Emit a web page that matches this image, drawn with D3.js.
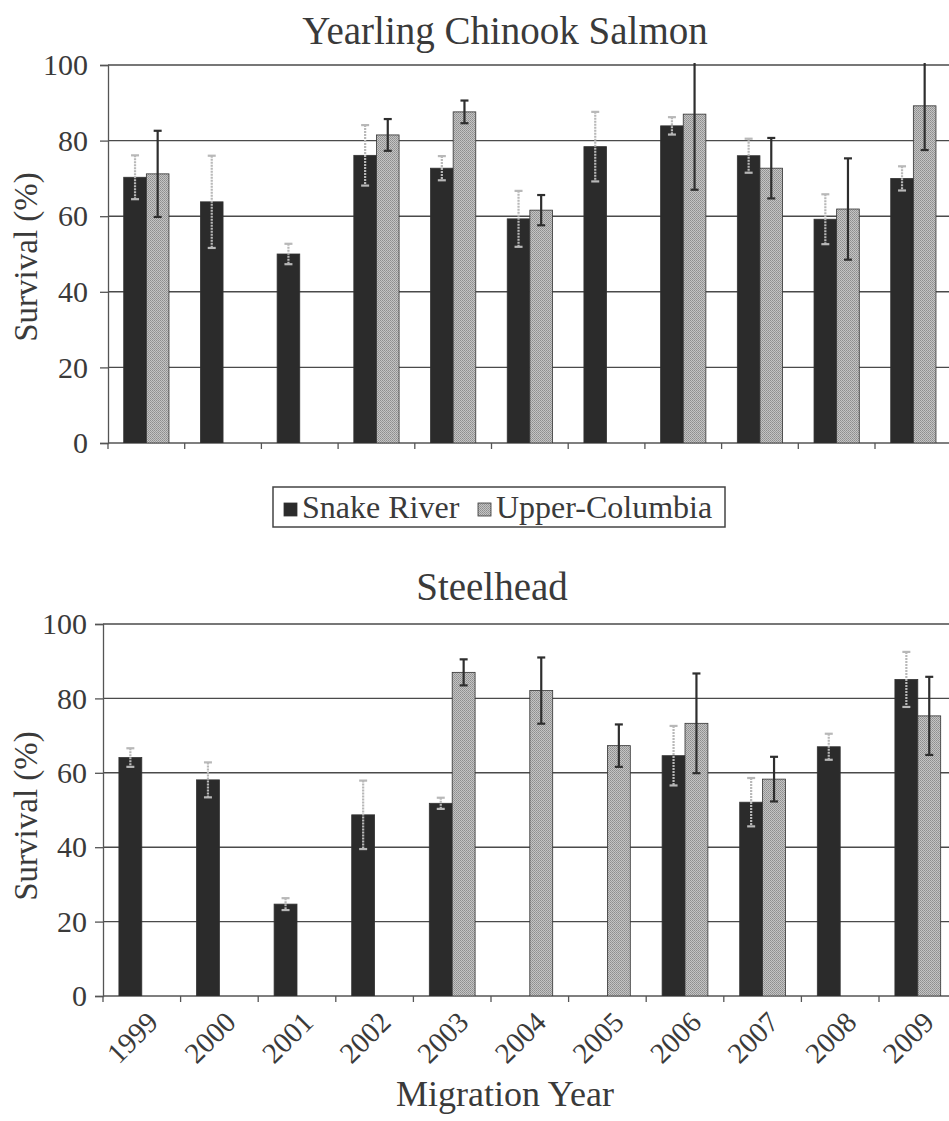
<!DOCTYPE html>
<html><head><meta charset="utf-8">
<script src="https://cdn.jsdelivr.net/npm/d3@7"></script>
<style>body{margin:0;background:#fff}svg{display:block}</style>
</head><body>
<script>
const years = ["1999","2000","2001","2002","2003","2004","2005","2006","2007","2008","2009"];
const seriesNames = ["Snake River","Upper-Columbia"];
const yTicks = [0,20,40,60,80,100];
// Yearling Chinook Salmon
const chinookSnake    = [70.3,63.8,50.0,76.1,72.7,59.3,78.4,83.9,76.0,59.2,70.0];
const chinookSnakeErr = [5.8,12.2,2.7,8.0,3.2,7.4,9.2,2.3,4.5,6.6,3.2];
const chinookUpper    = [71.2,null,null,81.5,87.6,61.6,null,87.0,72.7,61.9,89.2];
const chinookUpperErr = [11.4,null,null,4.2,3.0,4.0,null,20.0,8.0,13.4,11.7];
// Steelhead
const steelSnake    = [64.1,58.1,24.7,48.7,51.8,null,null,64.6,52.1,67.0,85.1];
const steelSnakeErr = [2.5,4.7,1.6,9.2,1.5,null,null,8.0,6.5,3.5,7.4];
const steelUpper    = [null,null,null,null,87.0,82.1,67.3,73.3,58.3,null,75.3];
const steelUpperErr = [null,null,null,null,3.5,8.9,5.7,13.4,6.0,null,10.5];

function pickFont(){
  const cands = ["Liberation Serif","Tinos","Times New Roman","DejaVu Serif","Noto Serif","FreeSerif","Nimbus Roman","Times"];
  const ctx = document.createElement("canvas").getContext("2d");
  const s = "Yearling Chinook Salmon 1999 WMil";
  ctx.font = "40px monospace"; const base = ctx.measureText(s).width;
  for (const c of cands){
    ctx.font = `40px "${c}", monospace`;
    if (Math.abs(ctx.measureText(s).width - base) > 0.5) return `"${c}", serif`;
  }
  return "serif";
}
const FONT = pickFont();
const W = 949, H = 1121;
const svg = d3.select("body").append("svg").attr("width",W).attr("height",H).style("font-family",FONT);
const defs = svg.append("defs");
const pat = defs.append("pattern").attr("id","grayPat").attr("patternUnits","userSpaceOnUse").attr("width",2).attr("height",2);
pat.append("rect").attr("width",2).attr("height",2).attr("fill","#c4c4c4");
pat.append("rect").attr("width",1).attr("height",1).attr("fill","#8e8e8e");
pat.append("rect").attr("x",1).attr("y",1).attr("width",1).attr("height",1).attr("fill","#9a9a9a");

function txt(sel){ return sel.style("font-family",FONT).attr("fill","#3a3a3a"); }

function panel(cfg){
  const g = svg.append("g");
  const x = d3.scaleBand().domain(years).range([cfg.x0, cfg.x0 + cfg.step*years.length]).paddingInner(0.41).paddingOuter(0.205);
  const xs = d3.scaleBand().domain(seriesNames).range([0, x.bandwidth()]);
  const y = d3.scaleLinear().domain([0,100]).range([cfg.y0, cfg.y100]);
  g.selectAll("line.grid").data(yTicks.filter(t=>t>0)).join("line")
    .attr("x1",cfg.x0).attr("x2",W).attr("y1",d=>y(d)).attr("y2",d=>y(d))
    .attr("stroke","#4a4a4a").attr("stroke-width",1.4);
  const ya = g.append("g").attr("transform",`translate(${cfg.x0},0)`)
    .call(d3.axisLeft(y).tickValues(yTicks).tickSize(8).tickPadding(cfg.pad));
  ya.attr("font-family",null);
  ya.select(".domain").attr("stroke","#555").attr("stroke-width",1.3);
  ya.selectAll(".tick line").attr("stroke","#555").attr("stroke-width",1.3);
  txt(ya.selectAll(".tick text")).attr("font-size",30);
  g.append("line").attr("x1",cfg.x0).attr("x2",W).attr("y1",cfg.y0).attr("y2",cfg.y0).attr("stroke","#555").attr("stroke-width",1.3);
  const bounds = years.map((d,i)=> x.range()[0] + x.step()*i);
  g.selectAll("line.xt").data(bounds).join("line")
    .attr("x1",d=>d).attr("x2",d=>d).attr("y1",cfg.y0).attr("y2",cfg.y0+6)
    .attr("stroke","#555").attr("stroke-width",1.3);
  const clip = "clip"+cfg.id;
  defs.append("clipPath").attr("id",clip).append("rect").attr("x",0).attr("y",cfg.y100-2).attr("width",W).attr("height",cfg.y0-cfg.y100+2);
  const pg = g.append("g").attr("clip-path",`url(#${clip})`);
  const series = [
    {name:"Snake River", vals:cfg.snake, errs:cfg.snakeErr, fill:"#2b2b2b", err:"#b8b8b8", dash:"2,1"},
    {name:"Upper-Columbia", vals:cfg.upper, errs:cfg.upperErr, fill:"url(#grayPat)", err:"#2e2e2e", dash:null}
  ];
  series.forEach(s=>{
    const data = years.map((yr,i)=>({yr, v:s.vals[i], e:s.errs[i]})).filter(d=>d.v!=null);
    pg.selectAll(null).data(data).join("rect")
      .attr("x",d=>x(d.yr)+xs(s.name)).attr("width",xs.bandwidth())
      .attr("y",d=>y(d.v)).attr("height",d=>cfg.y0-y(d.v))
      .attr("fill",s.fill).attr("stroke","#333").attr("stroke-width",0.8);
  });
  series.forEach(s=>{
    const data = years.map((yr,i)=>({yr, v:s.vals[i], e:s.errs[i]})).filter(d=>d.v!=null && d.e!=null);
    const eg = pg.selectAll(null).data(data).join("g");
    const cx = d=>x(d.yr)+xs(s.name)+xs.bandwidth()/2;
    eg.append("line").attr("x1",cx).attr("x2",cx).attr("y1",d=>y(d.v+d.e)).attr("y2",d=>y(d.v-d.e))
      .attr("stroke",s.err).attr("stroke-width",2.2).attr("stroke-dasharray",s.dash);
    [1,-1].forEach(sg=>{
      eg.append("line").attr("x1",d=>cx(d)-4).attr("x2",d=>cx(d)+4)
        .attr("y1",d=>y(d.v+sg*d.e)).attr("y2",d=>y(d.v+sg*d.e))
        .attr("stroke",s.err).attr("stroke-width",2.2);
    });
  });
  txt(g.append("text")).attr("x",cfg.titleX).attr("y",cfg.titleY).attr("text-anchor","middle").attr("font-size",39).text(cfg.title);
  txt(g.append("text")).attr("transform",`translate(37,${(cfg.y0+cfg.y100)/2+cfg.labShift}) rotate(-90)`).attr("text-anchor","middle").attr("font-size",33).text("Survival (%)");
  return {x, y};
}

panel({id:"a", x0:108, step:76.7, y0:443, y100:65, pad:12, labShift:3, snake:chinookSnake, snakeErr:chinookSnakeErr, upper:chinookUpper, upperErr:chinookUpperErr, title:"Yearling Chinook Salmon", titleX:505, titleY:44});
const p2 = panel({id:"b", x0:103, step:77.6, y0:996, y100:624, pad:8, labShift:6, snake:steelSnake, snakeErr:steelSnakeErr, upper:steelUpper, upperErr:steelUpperErr, title:"Steelhead", titleX:492, titleY:600});

txt(svg.append("g").selectAll("text").data(years).join("text"))
  .attr("transform",d=>`translate(${p2.x(d)+p2.x.bandwidth()/2+18},${1024}) rotate(-45)`)
  .attr("text-anchor","end").attr("font-size",29).text(d=>d);
txt(svg.append("text")).attr("x",505).attr("y",1106).attr("text-anchor","middle").attr("font-size",36).text("Migration Year");

const lg = svg.append("g");
lg.append("rect").attr("x",273).attr("y",487).attr("width",452).attr("height",40).attr("fill","none").attr("stroke","#444").attr("stroke-width",1.5);
const legendItems = [{name:seriesNames[0], fill:"#2b2b2b", sx:284, tx:302},{name:seriesNames[1], fill:"url(#grayPat)", sx:478, tx:496}];
legendItems.forEach(it=>{
  lg.append("rect").attr("x",it.sx).attr("y",503).attr("width",13).attr("height",13).attr("fill",it.fill).attr("stroke","#333").attr("stroke-width",0.8);
  txt(lg.append("text")).attr("x",it.tx).attr("y",518).attr("font-size",32).text(it.name);
});
</script>
</body></html>
